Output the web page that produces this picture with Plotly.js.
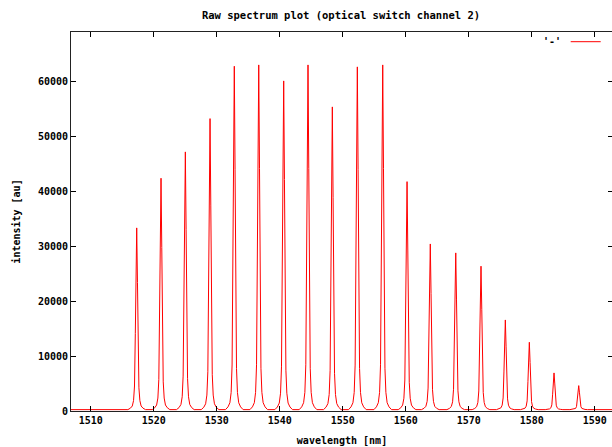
<!DOCTYPE html>
<html>
<head>
<meta charset="utf-8">
<script src="https://cdn.plot.ly/plotly-3.0.1.min.js"></script>
<style>
html,body{margin:0;padding:0;background:#fff;overflow:hidden;}
#chart{width:613px;height:447px;}
</style>
</head>
<body>
<div id="chart"></div>
<script>
// Peak centres (nm) and peak heights (au)
var peakNm = [1517.30, 1521.16, 1525.02, 1528.94, 1532.79, 1536.67, 1540.63, 1544.49, 1548.35, 1552.32,
              1556.35, 1560.21, 1563.90, 1567.94, 1571.95, 1575.81, 1579.62, 1583.54, 1587.46];
var peakHeight = [33070, 42110, 46900, 52960, 62490, 62730, 59820, 62730, 55090, 62370,
                  62730, 41490, 30150, 28520, 26100, 16320, 12260, 6680, 4370];
// Measured line shape around each peak (offset in nm, fraction of peak height)
var profileOffset = [-1.4, -1.0, -0.7, -0.5, -0.35, -0.22, -0.12, 0, 0.12, 0.22, 0.35, 0.5, 0.7, 1.0, 1.4];
var profileRel    = [0.0, 0.008, 0.02, 0.05, 0.13, 0.42, 0.8, 1.0, 0.7, 0.38, 0.12, 0.05, 0.02, 0.008, 0.0];
// Background level and spectrum ends
var baseline = 250;
var spectrumStart = 1506.5;
var spectrumEnd = 1593.5;
var xTicks = [1510, 1520, 1530, 1540, 1550, 1560, 1570, 1580, 1590];

var xs = [spectrumStart], ys = [baseline];
for (var i = 0; i < peakNm.length; i++) {
  for (var j = 0; j < profileOffset.length; j++) {
    xs.push(peakNm[i] + profileOffset[j]);
    ys.push(baseline + peakHeight[i] * profileRel[j]);
  }
}
xs.push(spectrumEnd); ys.push(baseline);

var F = 'DejaVu Sans Mono, monospace';
var tickFont = {family: F, size: 10, color: '#000', weight: 'bold'};

var trace = {
  x: xs, y: ys, type: 'scatter', mode: 'lines',
  line: {color: 'rgb(255,0,0)', width: 1},
  showlegend: false, hoverinfo: 'none'
};

var layout = {
  width: 613, height: 447,
  margin: {l: 71, r: 0, t: 32, b: 36},
  paper_bgcolor: '#fff', plot_bgcolor: '#fff',
  showlegend: false,
  title: {text: 'Raw spectrum plot (optical switch channel 2)',
          font: {family: F, size: 10.5, color: '#000', weight: 'bold'},
          xref: 'container', yref: 'container', x: 341/613, y: 1 - 15/447,
          xanchor: 'center', yanchor: 'middle'},
  xaxis: {
    range: [1506.87, 1592.9], tickvals: xTicks, ticktext: xTicks.map(String),
    ticks: 'inside', ticklen: 5, tickcolor: '#000', tickwidth: 1,
    showline: true, linecolor: '#222', linewidth: 1, mirror: 'allticks',
    showgrid: false, zeroline: false, tickfont: tickFont,
    title: {text: 'wavelength [nm]', font: tickFont, standoff: 11}
  },
  yaxis: {
    range: [0, 68970], dtick: 10000, tick0: 0,
    exponentformat: 'none', separatethousands: false, tickformat: 'd',
    ticks: 'inside', ticklen: 5, tickcolor: '#000', tickwidth: 1,
    showline: true, linecolor: '#222', linewidth: 1, mirror: 'allticks',
    showgrid: false, zeroline: false, tickfont: tickFont,
    title: {text: 'intensity [au]', font: tickFont, standoff: 15}
  },
  annotations: [{
    text: "'-'", xref: 'paper', yref: 'paper', x: (563 - 71)/542, y: 1 - (41.7 - 32)/379,
    xanchor: 'right', yanchor: 'middle', showarrow: false, font: tickFont
  }],
  shapes: [{
    type: 'line', xref: 'paper', yref: 'paper',
    x0: (570.7 - 71)/542, x1: (600.7 - 71)/542,
    y0: 1 - (41.7 - 32)/379, y1: 1 - (41.7 - 32)/379,
    line: {color: 'rgb(255,0,0)', width: 1}
  }]
};

Plotly.newPlot('chart', [trace], layout, {staticPlot: true, displayModeBar: false});
</script>
</body>
</html>
